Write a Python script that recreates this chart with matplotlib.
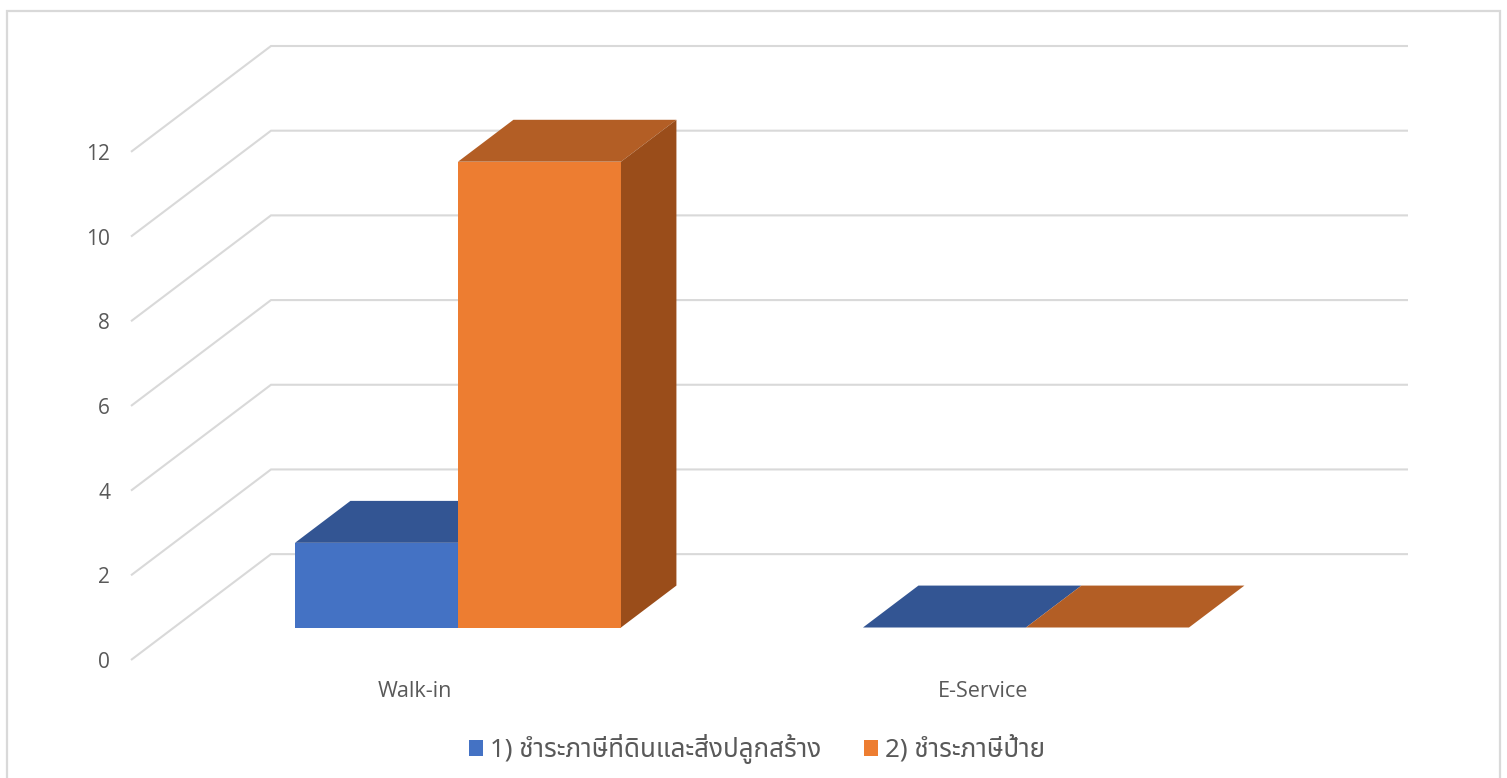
import matplotlib
matplotlib.use("Agg")
import logging
import matplotlib.pyplot as plt
from matplotlib.patches import Patch, Polygon, Rectangle

logging.getLogger("matplotlib.font_manager").setLevel(logging.ERROR)

categories = ["Walk-in", "E-Service"]
series_names = ["1) ชำระภาษีที่ดินและสิ่งปลูกสร้าง", "2) ชำระภาษีป้าย"]
land_tax = [2, 0]
sign_tax = [11, 0]
y_ticks = [0, 2, 4, 6, 8, 10, 12]

front_colors = ["#4472C4", "#ED7D31"]
top_colors = ["#335593", "#B35E25"]
side_colors = ["#2A4A80", "#9A4D1A"]
grid_color = "#D9D9D9"
text_color = "#595959"

W, H = 1507, 778
plt.rcParams["font.family"] = ["Open Sans", "Noto Sans", "DejaVu Sans"]
thai_fonts = ["Noto Sans Thai", "Sarabun", "Noto Sans", "DejaVu Sans"]

fig = plt.figure(figsize=(W / 100, H / 100), dpi=100)
fig.add_artist(Rectangle((7 / W, -0.05), 1493 / W, 1.05 - 10.5 / H, fill=False,
                         edgecolor=grid_color, linewidth=1.6,
                         transform=fig.transFigure))

# axes box = front-left of the floor up to the top of the back wall
ax = fig.add_axes([131 / W, 1 - 660 / H, (1408 - 131) / W, (660 - 46) / H])
ax.set_xlim(-0.5, (1408 - 415) / 568)
ax.set_ylim(0, 14.5)
for s in ax.spines.values():
    s.set_visible(False)
ax.patch.set_alpha(0)

# fake 3D: depth of the floor and of the bars, in data units
floor_dx = 140 / 568
floor_dy = 2.5
bar_front = 0.307
bar_depth = 0.396
bar_w = 163 / 568

for v in y_ticks:
    ax.plot([-0.5, -0.5 + floor_dx, ax.get_xlim()[1]],
            [v, v + floor_dy, v + floor_dy],
            color=grid_color, lw=1.5, zorder=1, clip_on=False,
            solid_joinstyle="miter", solid_capstyle="butt")

ddx = bar_depth * floor_dx
ddy = bar_depth * floor_dy
x0 = bar_front * floor_dx
y0 = bar_front * floor_dy

for c in range(len(categories)):
    for i, vals in enumerate([land_tax, sign_tax]):
        left = c - bar_w + x0 + i * bar_w
        right = left + bar_w
        top = y0 + vals[c]
        z = 3 + i
        ax.add_patch(Polygon([(left, y0), (right, y0), (right, top), (left, top)],
                             facecolor=front_colors[i], edgecolor="none", zorder=z))
        ax.add_patch(Polygon([(left, top), (right, top), (right + ddx, top + ddy), (left + ddx, top + ddy)],
                             facecolor=top_colors[i], edgecolor="none", zorder=z))
        ax.add_patch(Polygon([(right, y0), (right + ddx, y0 + ddy), (right + ddx, top + ddy), (right, top)],
                             facecolor=side_colors[i], edgecolor="none", zorder=z))

ax.set_yticks(y_ticks)
ax.set_xticks(range(len(categories)))
ax.set_xticklabels(categories)
ax.tick_params(axis="y", length=0, pad=15, labelsize=15, labelcolor=text_color)
ax.tick_params(axis="x", length=0, pad=15, labelsize=15.5, labelcolor=text_color)

handles = [Patch(facecolor=front_colors[0], edgecolor="none", label=series_names[0]),
           Patch(facecolor=front_colors[1], edgecolor="none", label=series_names[1])]
fig.legend(handles=handles, loc="center", bbox_to_anchor=(757 / W, 1 - 749 / H), ncol=2,
           frameon=False, handlelength=0.54, handleheight=0.54, handletextpad=0.27,
           columnspacing=1.65, labelcolor=text_color,
           prop={"family": thai_fonts, "size": 18.7})

fig.savefig("out.png", dpi=100)
